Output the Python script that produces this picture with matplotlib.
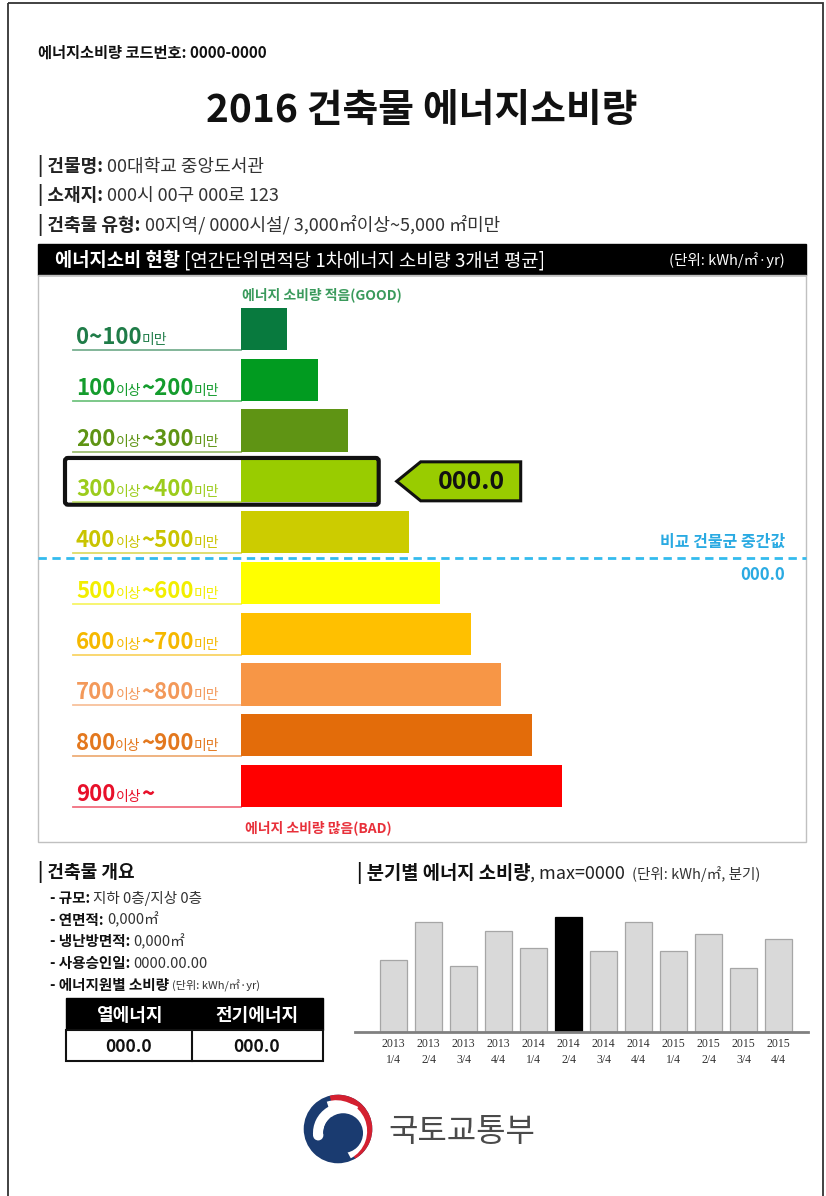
import matplotlib
matplotlib.use('Agg')
import matplotlib.pyplot as plt
from matplotlib.patches import Rectangle, Polygon, FancyBboxPatch, Wedge, Circle

plt.rcParams['font.family'] = ['Noto Sans CJK KR', 'DejaVu Sans']

# ---- data ----
code_no = '0000-0000'
info_rows = [('건물명', '00대학교 중앙도서관'),
             ('소재지', '000시 00구 000로 123'),
             ('건축물 유형', '00지역/ 0000시설/ 3,000㎡이상~5,000 ㎡미만')]

grade_lo = [0, 100, 200, 300, 400, 500, 600, 700, 800, 900]
grade_len = [1.5, 2.5, 3.5, 4.5, 5.5, 6.5, 7.5, 8.5, 9.5, 10.5]
grade_colors = ['#087a3e', '#019b20', '#5f9414', '#99cc00', '#cccc00',
                '#ffff00', '#ffc000', '#f79646', '#e36c0a', '#ff0000']
label_colors = ['#1f7c48', '#149c2d', '#5f9414', '#9ccc1c', '#c9c400',
                '#f2ee00', '#f5b800', '#f3995a', '#e3781e', '#e8102a']
my_grade = 3
my_value = '000.0'
median_value = '000.0'

overview = [('규모', '지하 0층/지상 0층'),
            ('연면적', '0,000㎡'),
            ('냉난방면적', '0,000㎡'),
            ('사용승인일', '0000.00.00')]
source_names = ['열에너지', '전기에너지']
source_vals = ['000.0', '000.0']

quarters = ['2013\n1/4', '2013\n2/4', '2013\n3/4', '2013\n4/4',
            '2014\n1/4', '2014\n2/4', '2014\n3/4', '2014\n4/4',
            '2015\n1/4', '2015\n2/4', '2015\n3/4', '2015\n4/4']
quarter_vals = [72, 110, 66, 101, 84, 115, 81, 110, 81, 98, 64, 93]
this_quarter = 5

W, H = 826, 1196
fig = plt.figure(figsize=(W / 100, H / 100), dpi=100)
ax = fig.add_axes([0, 0, 1, 1])
ax.set_xlim(0, W)
ax.set_ylim(H, 0)
ax.axis('off')
ax.set_zorder(3)
rend = fig.canvas.get_renderer()


def box(x0, y0, x1, y1):
    return [x0 / W, 1 - y1 / H, (x1 - x0) / W, (y1 - y0) / H]


def rich(x, y, parts):
    # pieces of text one after another on one baseline
    for s, size, bold, color in parts:
        if s.startswith(' '):
            x += size * 0.32 * (len(s) - len(s.lstrip()))
            s = s.lstrip()
        t = ax.text(x, y, s, fontsize=size, fontweight='bold' if bold else 'normal',
                    color=color, va='baseline', ha='left')
        x += t.get_window_extent(rend).width
    return x


# outer frame
ax.add_patch(Rectangle((8, 3), 815, 1300, fill=False, lw=1.3, ec='#333333'))

rich(38, 58, [('에너지소비량 코드번호: ' + code_no, 11, True, '#111111')])
ax.text(422, 122, '2016 건축물 에너지소비량', fontsize=28, fontweight='bold',
        ha='center', va='baseline', color='#111111')

for k, (lab, val) in enumerate(info_rows):
    rich(38, 172 + 29.5 * k, [('| ' + lab + ':', 13, True, '#222222'),
                              (' ' + val, 13, False, '#333333')])

# black band + chart box
ax.add_patch(Rectangle((38, 244), 768, 31, fc='black', ec='black'))
rich(55, 266, [('에너지소비 현황', 13.5, True, 'white'),
               (' [연간단위면적당 1차에너지 소비량 3개년 평균]', 13.5, False, 'white')])
ax.text(785, 265, '(단위: kWh/㎡·yr)', fontsize=10.5, color='white', ha='right', va='baseline')
ax.add_patch(Rectangle((38, 275), 768, 567, fill=False, ec='#c0c0c0', lw=1))

# grade bars
PX = 30.6
gax = fig.add_axes(box(241, 308, 241 + 11 * PX, 807))
gax.barh(range(len(grade_lo)), grade_len, height=0.83, color=grade_colors, left=0)
gax.set_xlim(0, 11)
gax.set_ylim(len(grade_lo) - 1 + 0.413, -0.413)
gax.axis('off')


def gx(v):
    return ax.transData.inverted().transform(gax.transData.transform((v, 0)))[0]


def gy(v):
    return ax.transData.inverted().transform(gax.transData.transform((0, v)))[1]


for i, lo in enumerate(grade_lo):
    c = label_colors[i]
    yb = gy(i + 0.414)
    ax.plot([73, gx(0)], [yb, yb], color=c, lw=1.3, alpha=0.6)
    if i == 0:
        parts = [('0~%d' % (lo + 100), 16, True, c), ('미만', 10, False, c)]
    elif i == len(grade_lo) - 1:
        parts = [(str(lo), 16, True, c), ('이상', 10, False, c), ('~', 16, True, c)]
    else:
        parts = [(str(lo), 16, True, c), ('이상', 10, False, c),
                 ('~%d' % (lo + 100), 16, True, c), ('미만', 10, False, c)]
    rich(76, yb - 6, parts)

ax.text(242, 299, '에너지 소비량 적음(GOOD)', fontsize=10, fontweight='bold',
        color='#3a9a5c', va='baseline')
ax.text(245, 832, '에너지 소비량 많음(BAD)', fontsize=10, fontweight='bold',
        color='#e8303a', va='baseline')

# my grade highlight and pointer
yc = gy(my_grade)
x_end = gx(grade_len[my_grade])
ax.add_patch(FancyBboxPatch((65, gy(my_grade - 0.46)), x_end - 65, gy(my_grade + 0.46) - gy(my_grade - 0.46),
                            boxstyle='round,pad=0,rounding_size=3', fill=False, ec='#111111', lw=3))
tip = x_end + 18
ax.add_patch(Polygon([(tip, yc), (tip + 24, yc - 19.5), (tip + 124, yc - 19.5),
                      (tip + 124, yc + 19.5), (tip + 24, yc + 19.5)],
                     closed=True, fc=grade_colors[my_grade], ec='#111111', lw=2.2, joinstyle='miter'))
ax.text(tip + 75, yc + 1, my_value, fontsize=18, fontweight='bold', ha='center', va='center', color='#111111')

# median line
ym = gy(4.5)
ax.plot([38, 806], [ym, ym], color='#33bbee', lw=2, ls=(0, (3, 2)))
ax.text(785, ym - 11, '비교 건물군 중간값', fontsize=11.5, fontweight='bold', color='#2aaae2',
        ha='right', va='baseline')
ax.text(785, ym + 22, median_value, fontsize=12, fontweight='bold', color='#2aaae2',
        ha='right', va='baseline')

# building overview
rich(38, 878, [('| 건축물 개요', 13, True, '#111111')])
for k, (lab, val) in enumerate(overview):
    rich(50, 903 + 21.7 * k, [('- ' + lab + ':', 10.5, True, '#111111'), (' ' + val, 10.5, False, '#333333')])
rich(50, 990, [('- 에너지원별 소비량', 10.5, True, '#111111'), (' (단위: kWh/㎡·yr)', 8, False, '#333333')])

ax.add_patch(Rectangle((66, 998), 257, 32, fc='black', ec='black'))
ax.add_patch(Rectangle((66, 1030), 257, 31, fc='white', ec='#111111', lw=1.5))
ax.plot([192, 192], [1030, 1061], color='#111111', lw=1.5)
for k, (nm, v) in enumerate(zip(source_names, source_vals)):
    cx = [129, 257][k]
    ax.text(cx, 1021, nm, fontsize=13, fontweight='bold', color='white', ha='center', va='baseline')
    ax.text(cx, 1052, v, fontsize=12.5, fontweight='bold', color='#111111', ha='center', va='baseline')

# quarterly chart
rich(357, 879, [('| 분기별 에너지 소비량', 13.5, True, '#111111'),
                (', max=0000', 13, False, '#222222'),
                ('  (단위: kWh/㎡, 분기)', 10.5, False, '#333333')])
qax = fig.add_axes(box(355, 905, 808, 1032))
qx = list(range(len(quarters)))
qcol = ['#000000' if i == this_quarter else '#d9d9d9' for i in qx]
qedge = ['#000000' if i == this_quarter else '#a6a6a6' for i in qx]
qax.bar(qx, quarter_vals, width=0.77, color=qcol, edgecolor=qedge, lw=0.9)
qax.set_xlim(-1.1, 11.84)
qax.set_ylim(0, 127)
qax.patch.set_visible(False)
for s in ['top', 'left', 'right']:
    qax.spines[s].set_visible(False)
qax.spines['bottom'].set_color('#808080')
qax.spines['bottom'].set_linewidth(2)
qax.set_yticks([])
qax.set_xticks(qx, quarters)
for t in qax.get_xticklabels():
    t.set_fontfamily('Liberation Serif')
    t.set_fontsize(8.5)
    t.set_color('#333333')
    t.set_linespacing(1.45)
qax.tick_params(axis='x', length=0, pad=4.5)

# logo
lax = fig.add_axes(box(302, 1093, 374, 1165))
lax.set_xlim(-1.05, 1.05)
lax.set_ylim(-1.05, 1.05)
lax.set_aspect('equal')
lax.axis('off')
navy = '#1a3b70'
lax.add_patch(Circle((0, 0), 1, fc=navy, ec='none'))
lax.add_patch(Wedge((0, 0), 1.0, -60, 104, fc='#d42030', ec='none'))
lax.add_patch(Wedge((-0.05, -0.06), 0.9, -62, 108, fc='white', ec='none'))
lax.add_patch(Wedge((0.15, -0.12), 0.88, 60, 185, width=0.3, fc='white', ec='none'))
lax.add_patch(Circle((0.15, -0.12), 0.58, fc=navy, ec='none'))
lax.add_patch(Circle((0.15 - 0.73 * 0.996, -0.12 - 0.73 * 0.087), 0.15, fc='white', ec='none'))
ax.text(388, 1141, '국토교통부', fontsize=23, color='#4a4a4a', va='baseline')

fig.savefig('out.png', dpi=100)
